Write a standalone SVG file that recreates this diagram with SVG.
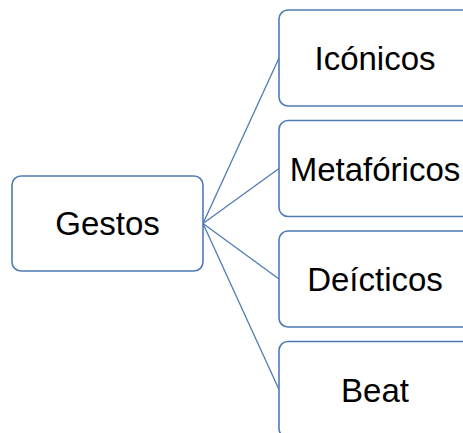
<svg xmlns="http://www.w3.org/2000/svg" width="463" height="433" viewBox="0 0 463 433">
  <style>
    .box { fill: #ffffff; stroke: #4f7bb4; stroke-width: 1.6; }
    .edge { stroke: #4f7bb4; stroke-width: 1.3; fill: none; }
    .label { font-family: "Liberation Sans", Arial, sans-serif; font-size: 33px; fill: #000000; text-anchor: middle; }
  </style>
  <rect width="463" height="433" fill="#ffffff"/>
  <g id="connectors">
    <line class="edge" x1="203" y1="223.5" x2="279" y2="58"/>
    <line class="edge" x1="203" y1="223.5" x2="279" y2="168.5"/>
    <line class="edge" x1="203" y1="223.5" x2="279" y2="279"/>
    <line class="edge" x1="203" y1="223.5" x2="279" y2="389.5"/>
  </g>
  <g id="gestos">
    <rect class="box" x="12" y="176" width="191" height="95" rx="9"/>
    <text class="label" x="107.5" y="235">Gestos</text>
  </g>
  <g id="iconicos">
    <rect class="box" x="279" y="10" width="192" height="96" rx="9"/>
    <text class="label" x="375" y="70">Icónicos</text>
  </g>
  <g id="metaforicos">
    <rect class="box" x="279" y="120.5" width="192" height="96" rx="9"/>
    <text class="label" x="375" y="180.5">Metafóricos</text>
  </g>
  <g id="deicticos">
    <rect class="box" x="279" y="231" width="192" height="96" rx="9"/>
    <text class="label" x="375" y="291">Deícticos</text>
  </g>
  <g id="beat">
    <rect class="box" x="279" y="341.5" width="192" height="96" rx="9"/>
    <text class="label" x="375" y="401.5">Beat</text>
  </g>
</svg>
